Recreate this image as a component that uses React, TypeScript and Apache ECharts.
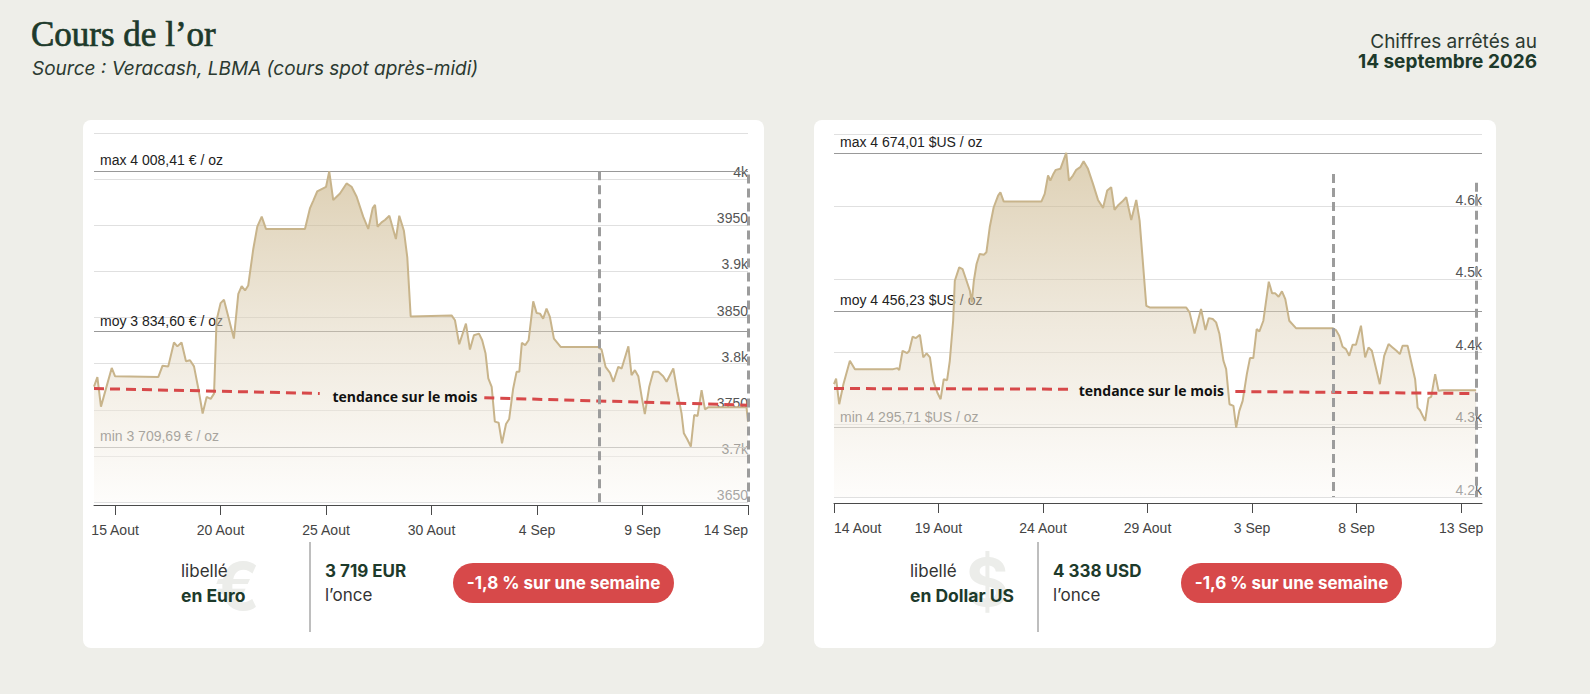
import React, { useEffect, useRef } from "react";
import * as echarts from "echarts";

// ---------------- DATA (x = days since 14 Aug 2026 00:00) ----------------
const EUR_DAYS = [
  0, 0.16, 0.33, 0.84, 1.0, 3.05, 3.25, 3.52, 3.79, 3.95, 4.15, 4.36, 4.55, 4.74, 4.94, 5.15, 5.34, 5.53, 5.69,
  5.81, 6.0, 6.16, 6.37, 6.63, 6.84, 7.0, 7.16, 7.31, 7.55, 7.74, 7.95, 8.15, 10.0, 10.24, 10.39, 10.58, 10.79,
  11.0, 11.15, 11.34, 11.66, 11.97, 12.21, 12.45, 12.76, 13.0, 13.21, 13.32, 13.44, 13.63, 13.79, 14.0, 14.31,
  14.47, 14.69, 14.85, 15.01, 16.95, 17.11, 17.31, 17.63, 17.82, 18.01, 18.25, 18.4, 18.56, 18.69, 18.85, 19.0,
  19.18, 19.34, 19.53, 19.68, 19.87, 20.03, 20.16, 20.28, 20.44, 20.6, 20.82, 20.98, 21.14, 21.29, 21.45, 21.61,
  21.8, 22.12, 23.9, 24.06, 24.25, 24.46, 24.62, 24.85, 25.01, 25.33, 25.48, 25.64, 25.8, 25.96, 26.11, 26.32,
  26.51, 26.75, 26.98, 27.14, 27.46, 27.65, 27.85, 27.96, 28.12, 28.29, 28.45, 28.61, 28.8, 28.96, 29.11, 30.93, 31,
];
const EUR_PRICES = [
  3775, 3785.4, 3753.4, 3795.3, 3786.3, 3785.6, 3797.8, 3797, 3823, 3818.7, 3823, 3802.5, 3803.6, 3797, 3773.6,
  3745.9, 3763.9, 3761.8, 3767.5, 3847, 3865.6, 3869.2, 3850.5, 3827.1, 3875.7, 3884, 3879.3, 3884.7, 3924.3,
  3948.5, 3959.3, 3946, 3946, 3968.6, 3976.5, 3986.6, 3989.2, 3991.7, 4008.4, 3977.3, 3984.5, 3995.3, 3991.7,
  3980.9, 3959.3, 3946, 3968.6, 3972.2, 3948.4, 3953.1, 3955.7, 3960.3, 3935.1, 3960.3, 3944, 3915.3, 3851.2,
  3852.3, 3847, 3821, 3843.3, 3815.2, 3830.7, 3832.5, 3825.3, 3810.9, 3783.9, 3774.9, 3737.1, 3736, 3713.7,
  3734.6, 3740, 3773.1, 3791.1, 3791.1, 3822.5, 3820, 3825.3, 3867.5, 3854.9, 3854.2, 3848.8, 3859.6, 3850.6,
  3827.1, 3818.1, 3818.1, 3815.2, 3796.5, 3790, 3780.3, 3796.5, 3794.7, 3818.8, 3787.5, 3792.9, 3786.4, 3764,
  3745.3, 3774.9, 3791.1, 3791.1, 3786.4, 3780.3, 3794.7, 3769.5, 3746.1, 3724.5, 3718, 3710.1, 3744.3, 3743.3,
  3771.3, 3750.4, 3752.6, 3752.6, 3737,
];

const USD_DAYS = [
  0, 0.1, 0.25, 0.45, 0.76, 1.0, 2.83, 3.03, 3.12, 3.28, 3.5, 3.6, 3.76, 3.92, 4.11, 4.27, 4.43, 4.59, 4.75, 4.94,
  5.1, 5.25, 5.41, 5.54, 5.7, 5.78, 5.99, 6.15, 6.34, 6.5, 6.59, 6.69, 6.82, 6.97, 7.17, 7.29, 7.45, 7.64, 7.85,
  7.96, 8.12, 9.92, 10.08, 10.24, 10.35, 10.48, 10.61, 10.83, 11.11, 11.24, 11.43, 11.59, 11.78, 11.94, 12.15,
  12.39, 12.63, 12.87, 13.07, 13.26, 13.42, 13.58, 13.79, 13.98, 14.22, 14.46, 14.62, 14.94, 15.1, 16.85, 17.01,
  17.25, 17.56, 17.77, 17.93, 18.12, 18.28, 18.44, 18.63, 18.76, 18.92, 19.11, 19.24, 19.39, 19.55, 19.75, 19.9,
  20.06, 20.22, 20.35, 20.54, 20.8, 20.96, 21.11, 21.27, 21.43, 21.59, 21.78, 22.1, 23.85, 24.01, 24.17, 24.33,
  24.49, 24.65, 24.81, 24.97, 25.21, 25.41, 25.57, 25.73, 25.92, 26.11, 26.32, 26.53, 26.72, 26.91, 27.07, 27.2,
  27.44, 27.6, 27.8, 27.92, 28.03, 28.28, 28.44, 28.57, 28.76, 28.92, 29.11, 30.72,
];
const USD_PRICES = [
  4355.4, 4363.2, 4327.8, 4355.4, 4387.6, 4376.1, 4376.1, 4377.5, 4374.7, 4401.4, 4398.2, 4401.4, 4420.7, 4418.9,
  4423.4, 4392.2, 4397.7, 4392.2, 4360, 4343.9, 4334.7, 4362.3, 4360.9, 4387.6, 4442.8, 4497.9, 4516.3, 4514,
  4497.9, 4484.1, 4468, 4497.9, 4520.9, 4534.7, 4533.8, 4537, 4571.5, 4599.1, 4615.2, 4619.8, 4606.9, 4606.9,
  4617.5, 4642.8, 4635.9, 4644.1, 4650.6, 4652, 4674, 4635.9, 4642.8, 4650.6, 4654.3, 4662.5, 4652, 4631.3,
  4609.2, 4598.2, 4622.1, 4626.7, 4595.4, 4601.4, 4606.9, 4612.9, 4581.6, 4609.2, 4580.7, 4463.4, 4461.1, 4461.1,
  4454.3, 4425.3, 4458.9, 4429.9, 4446.4, 4445.1, 4440.5, 4424.4, 4387.6, 4376.1, 4327.8, 4325.5, 4295.7, 4318.6,
  4332.4, 4369.2, 4391.3, 4391.3, 4431.3, 4428, 4442.8, 4496.6, 4480.5, 4480.5, 4475.9, 4483.2, 4472.6, 4442.8,
  4432.6, 4432.6, 4429.9, 4422.1, 4406.9, 4403.7, 4394.5, 4409.7, 4409.7, 4435.9, 4392.2, 4406, 4401.4, 4378.4,
  4355.4, 4394.5, 4410.6, 4406, 4401.4, 4396.8, 4408.3, 4408.3, 4387.6, 4362.3, 4323.2, 4319.5, 4304.8, 4336.1,
  4337.9, 4369.2, 4346.2, 4347.1, 4347.1,
];

const EUR_TICK_DAYS = [1, 6, 11, 16, 21, 26, 31];
const EUR_TICK_LABELS = ["15 Aout", "20 Aout", "25 Aout", "30 Aout", "4 Sep", "9 Sep", "14 Sep"];
const USD_TICK_DAYS = [0, 5, 10, 15, 20, 25, 30];
const USD_TICK_LABELS = ["14 Aout", "19 Aout", "24 Aout", "29 Aout", "3 Sep", "8 Sep", "13 Sep"];

const EUR_Y_TICKS = [3650, 3700, 3750, 3800, 3850, 3900, 3950, 4000, 4050];
const EUR_Y_LABELS = ["3650", "3.7k", "3750", "3.8k", "3850", "3.9k", "3950", "4k", ""];
const USD_Y_TICKS = [4200, 4300, 4400, 4500, 4600, 4700];
const USD_Y_LABELS = ["4.2k", "4.3k", "4.4k", "4.5k", "4.6k", ""];

const EUR_STAT_VALUES = [4008.41, 3834.6, 3709.69];
const EUR_STAT_LABELS = ["max 4 008,41 € / oz", "moy 3 834,60 € / oz", "min 3 709,69 € / oz"];
const USD_STAT_VALUES = [4674.01, 4456.23, 4295.71];
const USD_STAT_LABELS = ["max 4 674,01 $US / oz", "moy 4 456,23 $US / oz", "min 4 295,71 $US / oz"];

const TREND_LABEL = "tendance sur le mois";
const EUR_TREND_DAYS = [0, 10.7, 18.5, 31];
const EUR_TREND_VALUES = [3773, 3767.7, 3763, 3755];
const EUR_TREND_LABEL_AT = [14.74, 3764];
const USD_TREND_DAYS = [0, 11.28, 19.2, 30.7];
const USD_TREND_VALUES = [4349.4, 4348.5, 4345.3, 4342.5];
const USD_TREND_LABEL_AT = [15.18, 4346.2];

const EUR_WEEK_DAYS = [23.95, 31];
const EUR_WEEK_TOPS = [4008.41, 4005];
const USD_WEEK_DAYS = [23.9, 30.72];
const USD_WEEK_TOPS = [4645, 4633];

const TITLE = "Cours de l’or";
const SUBTITLE = "Source : Veracash, LBMA (cours spot après-midi)";
const DATE_LINE1 = "Chiffres arrêtés au";
const DATE_LINE2 = "14 septembre 2026";

const EUR_FOOTER = { symbol: "€", label: "libellé", currency: "en Euro", price: "3 719 EUR", unit: "l’once", change: "-1,8 % sur une semaine" };
const USD_FOOTER = { symbol: "$", label: "libellé", currency: "en Dollar US", price: "4 338 USD", unit: "l’once", change: "-1,6 % sur une semaine" };

// ---------------- STYLE / LAYOUT ----------------
const PAGE_BG = "#eeeee9";
const DARK_GREEN = "#1d3a2b";
const TEXT_GREY = "#333333";
const GOLD_LINE = "#c8b48b";
const RED = "#d7494a";
const AXIS_FONT = "'Liberation Sans', Arial, sans-serif";
const UI_FONT = "Inter, 'Noto Sans', sans-serif";

type Panel = {
  days: number[]; prices: number[];
  tickDays: number[]; tickLabels: string[];
  yTicks: number[]; yLabels: string[]; yInterval: number;
  statValues: number[]; statLabels: string[];
  trendDays: number[]; trendValues: number[]; trendLabelAt: number[];
  weekDays: number[]; weekTops: number[];
  grid: { left: number; top: number; width: number; height: number };
  axisOffset: number; alignMin: boolean; alignMax: boolean;
};

const PANELS: Panel[] = [
  {
    days: EUR_DAYS, prices: EUR_PRICES, tickDays: EUR_TICK_DAYS, tickLabels: EUR_TICK_LABELS,
    yTicks: EUR_Y_TICKS, yLabels: EUR_Y_LABELS, yInterval: 50,
    statValues: EUR_STAT_VALUES, statLabels: EUR_STAT_LABELS,
    trendDays: EUR_TREND_DAYS, trendValues: EUR_TREND_VALUES, trendLabelAt: EUR_TREND_LABEL_AT,
    weekDays: EUR_WEEK_DAYS, weekTops: EUR_WEEK_TOPS,
    grid: { left: 94, top: 133, width: 654, height: 369 }, axisOffset: 3, alignMin: false, alignMax: true,
  },
  {
    days: USD_DAYS, prices: USD_PRICES, tickDays: USD_TICK_DAYS, tickLabels: USD_TICK_LABELS,
    yTicks: USD_Y_TICKS, yLabels: USD_Y_LABELS, yInterval: 100,
    statValues: USD_STAT_VALUES, statLabels: USD_STAT_LABELS,
    trendDays: USD_TREND_DAYS, trendValues: USD_TREND_VALUES, trendLabelAt: USD_TREND_LABEL_AT,
    weekDays: USD_WEEK_DAYS, weekTops: USD_WEEK_TOPS,
    grid: { left: 834, top: 134, width: 648, height: 363 }, axisOffset: 6, alignMin: true, alignMax: false,
  },
];

function buildPanel(p: Panel, i: number) {
  const yMin = p.yTicks[0];
  const yMax = p.yTicks[p.yTicks.length - 1];
  const grid = { ...p.grid, containLabel: false };
  const xAxis = {
    gridIndex: i, type: "value", min: 0, max: 31, offset: p.axisOffset,
    axisLine: { show: true, lineStyle: { color: "#4a4a4a", width: 1 } },
    axisTick: { show: true, customValues: p.tickDays, length: 10, lineStyle: { color: "#4a4a4a", width: 1 } },
    axisLabel: {
      customValues: p.tickDays,
      formatter: (v: number) => p.tickLabels[p.tickDays.indexOf(v)] ?? "",
      margin: 18, color: "#444", fontSize: 14, fontFamily: AXIS_FONT,
      ...(p.alignMin ? { alignMinLabel: "left" } : {}),
      ...(p.alignMax ? { alignMaxLabel: "right" } : {}),
    },
    splitLine: { show: false },
  };
  const yAxis = {
    gridIndex: i, type: "value", min: yMin, max: yMax, interval: p.yInterval, position: "right",
    axisLine: { show: false }, axisTick: { show: false },
    splitLine: { show: true, lineStyle: { color: "#e0e0e0", width: 1 } },
    axisLabel: {
      inside: true, margin: 0, verticalAlign: "bottom", color: "#555", fontSize: 14, fontFamily: AXIS_FONT,
      formatter: (v: number) => p.yLabels[p.yTicks.indexOf(v)] ?? "",
    },
  };
  const statSeries = {
    type: "line", xAxisIndex: i, yAxisIndex: i, data: [], silent: true, z: 1,
    markLine: {
      z: 1, silent: true, symbol: ["none", "none"], animation: false,
      data: p.statValues.map((v, k) => ({
        yAxis: v,
        lineStyle: { color: k === 2 ? "#aaaaaa" : "#999999", width: 1, type: "solid" },
        label: {
          show: true, position: "insideStartTop", formatter: p.statLabels[k], distance: [6, 4],
          color: k === 2 ? "#5e5e5e" : "#222222", fontSize: 14, fontFamily: AXIS_FONT,
        },
      })),
    },
  };
  const mainSeries = {
    type: "line", xAxisIndex: i, yAxisIndex: i, z: 3, silent: true,
    data: p.days.map((d, k) => [d, p.prices[k]]),
    showSymbol: false, symbol: "none",
    lineStyle: { color: GOLD_LINE, width: 2 },
    areaStyle: {
      origin: "start",
      color: {
        type: "linear", x: 0, y: 0, x2: 0, y2: 1,
        colorStops: [
          { offset: 0, color: "rgba(197,173,124,0.82)" },
          { offset: 0.5, color: "rgba(224,212,188,0.72)" },
          { offset: 1, color: "rgba(252,250,247,0.7)" },
        ],
      },
    },
  };
  const overlaySeries = {
    type: "line", xAxisIndex: i, yAxisIndex: i, data: [], silent: true, z: 6,
    markLine: {
      z: 6, silent: true, symbol: ["none", "none"], animation: false, label: { show: false },
      data: [
        [
          { coord: [p.trendDays[0], p.trendValues[0]] },
          { coord: [p.trendDays[1], p.trendValues[1]] },
        ],
        [
          { coord: [p.trendDays[2], p.trendValues[2]] },
          { coord: [p.trendDays[3], p.trendValues[3]] },
        ],
      ].map((seg) => [
        { ...seg[0], lineStyle: { color: RED, width: 3, type: [10, 6] } },
        seg[1],
      ]).concat(
        p.weekDays.map((d, k) => [
          { coord: [d, p.weekTops[k]], lineStyle: { color: "#9c9c9c", width: 3, type: [9, 5] } },
          { coord: [d, yMin] },
        ])
      ),
    },
    markPoint: {
      z: 7, silent: true, animation: false,
      data: [
        {
          coord: p.trendLabelAt, symbol: "circle", symbolSize: 0,
          label: {
            show: true, position: "inside", formatter: TREND_LABEL, color: "#111",
            fontSize: 14, fontWeight: "bold", fontFamily: "'Open Sans', sans-serif",
          },
        },
      ],
    },
  };
  return { grid, xAxis, yAxis, series: [statSeries, mainSeries, overlaySeries] };
}

function txt(x: number, y: number, text: string, font: string, fill: string, align = "left", z = 10, extra: any = {}) {
  return {
    type: "text", x, y, z, silent: true,
    style: { text, font, fill, align, verticalAlign: "middle", textAlign: align, textVerticalAlign: "middle", ...extra },
  };
}

function footer(f: typeof EUR_FOOTER, o: { text: number; symbolX: number; symbolY: number; sep: number; price: number; pillX: number }) {
  return [
    txt(o.symbolX, o.symbolY, f.symbol, `bold 66px ${UI_FONT}`, "#ecedea", "center", 5),
    txt(o.text, 571, f.label, `17px ${UI_FONT}`, TEXT_GREY),
    txt(o.text, 595, f.currency, `bold 17.5px ${UI_FONT}`, DARK_GREEN),
    { type: "line", z: 5, silent: true, shape: { x1: o.sep, y1: 542, x2: o.sep, y2: 632 }, style: { stroke: "#a8a8a8", lineWidth: 1.5 } },
    txt(o.price, 571, f.price, `bold 17px ${UI_FONT}`, DARK_GREEN, "left", 10, { letterSpacing: -0.3 }),
    txt(o.price, 595, f.unit, `17px ${UI_FONT}`, TEXT_GREY),
    { type: "rect", z: 5, silent: true, shape: { x: o.pillX, y: 563, width: 221, height: 40, r: 20 }, style: { fill: RED } },
    txt(o.pillX + 110.5, 583, f.change, `bold 17px ${UI_FONT}`, "#ffffff", "center", 10, { letterSpacing: -0.3 }),
  ];
}

export default function App() {
  const ref = useRef<HTMLDivElement>(null);
  useEffect(() => {
    if (!ref.current) return;
    const chart = echarts.init(ref.current, null, { renderer: "svg" });
    const parts = PANELS.map(buildPanel);
    const option: any = {
      animation: false,
      backgroundColor: PAGE_BG,
      grid: parts.map((p) => p.grid),
      xAxis: parts.map((p) => p.xAxis),
      yAxis: parts.map((p) => p.yAxis),
      series: parts.flatMap((p) => p.series),
      graphic: {
        elements: [
          { type: "rect", z: -10, silent: true, shape: { x: 83, y: 120, width: 681, height: 528, r: 8 }, style: { fill: "#ffffff" } },
          { type: "rect", z: -10, silent: true, shape: { x: 814, y: 120, width: 682, height: 528, r: 8 }, style: { fill: "#ffffff" } },
          txt(31, 34, TITLE, `35px 'Liberation Serif', serif`, DARK_GREEN, "left", 10, { stroke: DARK_GREEN, lineWidth: 0.7 }),
          txt(32, 68, SUBTITLE, `italic 19px ${UI_FONT}`, "#2c3a31"),
          txt(1537, 41, DATE_LINE1, `19px ${UI_FONT}`, "#2c3a31", "right"),
          txt(1537, 61, DATE_LINE2, `bold 19px ${UI_FONT}`, DARK_GREEN, "right", 10, { letterSpacing: -0.2 }),
          ...footer(EUR_FOOTER, { text: 181, symbolX: 237, symbolY: 586, sep: 310, price: 325, pillX: 453 }),
          ...footer(USD_FOOTER, { text: 910, symbolX: 987, symbolY: 582, sep: 1038, price: 1053, pillX: 1181 }),
        ],
      },
    };
    chart.setOption(option);
    return () => chart.dispose();
  }, []);
  return <div ref={ref} style={{ position: "fixed", left: 0, top: 0, width: 1590, height: 694 }} />;
}
